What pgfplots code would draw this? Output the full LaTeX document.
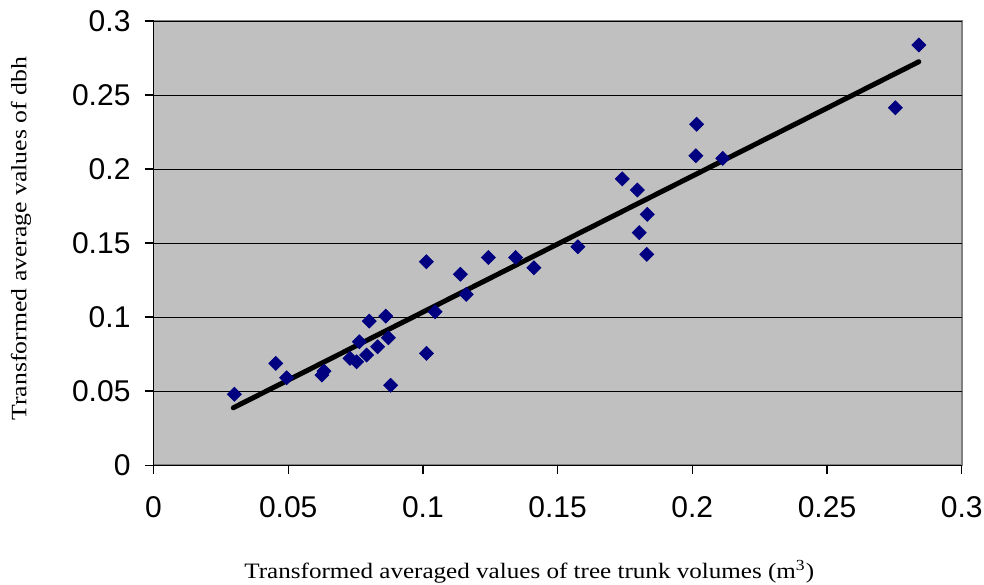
\documentclass[border=0pt]{standalone}
\usepackage{pgfplots}
\pgfplotsset{compat=1.18}
\usepackage{graphicx}
\usepackage{fontspec}
\setmainfont{Liberation Serif}
\newfontfamily\arialf{Liberation Sans}
\definecolor{plotgray}{RGB}{192,192,192}
\definecolor{bordergray}{RGB}{128,128,128}
\definecolor{navy}{RGB}{0,0,128}
\begin{document}
\begin{tikzpicture}
\begin{axis}[
  scale only axis,
  width=404pt, height=222pt,
  xmin=0, xmax=0.3, ymin=0, ymax=0.3,
  xtick={0,0.05,0.1,0.15,0.2,0.25,0.3},
  ytick={0,0.05,0.1,0.15,0.2,0.25,0.3},
  xticklabels={0,0.05,0.1,0.15,0.2,0.25,0.3},
  yticklabels={0,0.05,0.1,0.15,0.2,0.25,0.3},
  axis x line*=bottom, axis y line*=left,
  axis line style={black, line width=0.6pt},
  tick align=outside,
  major tick length=4.5pt,
  tick style={black, line width=0.6pt},
  ymajorgrids,
  major grid style={black, line width=0.5pt},
  axis background/.style={fill=plotgray, draw=bordergray, line width=0.8pt},
  tick label style={font=\arialf\fontsize{15}{15}\selectfont},
  /pgf/number format/assume math mode=true,
  xticklabel style={yshift=-7.5pt},
  yticklabel style={xshift=-3.5pt},
  xlabel={\scalebox{1.14}[1]{Transformed averaged values of tree trunk volumes (m\textsuperscript{3})}},
  ylabel={\scalebox{1.17}[1]{Transformed average values of dbh}},
  label style={font=\fontsize{11}{13}\selectfont},
  xlabel style={at={(axis description cs:0.465,-0.241)}, anchor=center},
  ylabel style={at={(axis description cs:-0.164,0.51)}, anchor=center},
  clip=false,
]
\addplot[black, line width=2.5pt, line cap=round] coordinates {(0.0296,0.0387) (0.2841,0.2725)};
\addplot[only marks, mark=square*, mark size=2.45pt, mark options={rotate=45, fill=navy, draw=navy}] coordinates {
(0.0300,0.0478) (0.0454,0.0687) (0.0494,0.0590) (0.0625,0.0608) (0.0633,0.0635)
(0.0729,0.0721) (0.0754,0.0698) (0.0791,0.0743) (0.0764,0.0833) (0.0801,0.0973)
(0.0862,0.1007) (0.0832,0.0799) (0.0872,0.0860) (0.0880,0.0539) (0.1013,0.1374)
(0.1013,0.0755) (0.1045,0.1036) (0.1139,0.1289) (0.1161,0.1153) (0.1243,0.1403)
(0.1344,0.1403) (0.1412,0.1333) (0.1575,0.1475) (0.1740,0.1934) (0.1796,0.1858)
(0.1833,0.1694) (0.1803,0.1570) (0.1831,0.1424) (0.2016,0.2302) (0.2013,0.2090)
(0.2113,0.2072) (0.2754,0.2414) (0.2841,0.2838)
};
\end{axis}
\pgfresetboundingbox
\path ([shift={(-76.75pt,-59.5pt)}]current axis.south west) rectangle ([shift={(11.15pt,10.5pt)}]current axis.north east);
\end{tikzpicture}
\end{document}
